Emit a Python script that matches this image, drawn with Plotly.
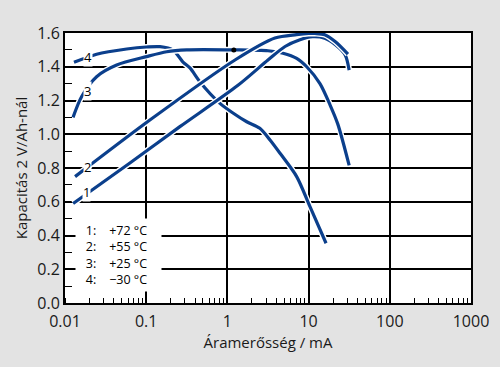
import math
import plotly.graph_objects as go

# ---- data (current in mA, capacity) ----
c1_x = [0.0126, 0.063, 0.26, 1.35, 3.16, 5.13, 7.83, 11.2, 15.8, 21.4, 28.2, 31.6]
c1_y = [0.59, 0.83, 1.045, 1.29, 1.44, 1.52, 1.56, 1.578, 1.569, 1.53, 1.47, 1.38]

c2_x = [0.0133, 0.111, 1.24, 3.85, 7.08, 10.0, 12.0, 15.8, 21.4, 30.5]
c2_y = [0.749, 1.084, 1.44, 1.57, 1.59, 1.597, 1.597, 1.59, 1.548, 1.475]

c3_x = [0.01256, 0.016, 0.0245, 0.0433, 0.101, 0.179, 0.316, 1.2, 3.16, 4.84, 7.13, 9.48, 13.8, 18.4, 22.9, 31.6]
c3_y = [1.10, 1.222, 1.341, 1.41, 1.46, 1.489, 1.50, 1.50, 1.495, 1.48, 1.45, 1.40, 1.30, 1.173, 1.06, 0.815]

c4_x = [0.0129, 0.0245, 0.0575, 0.101, 0.148, 0.214, 0.284, 0.346, 0.46, 0.81, 1.17, 1.73, 2.51, 3.35, 4.45, 7.13, 10.4, 16.4]
c4_y = [1.426, 1.474, 1.505, 1.517, 1.519, 1.499, 1.428, 1.393, 1.31, 1.183, 1.126, 1.074, 1.035, 0.966, 0.887, 0.749, 0.571, 0.354]

dot_x = [1.2]
dot_y = [1.5]

curve_labels = ["1", "2", "3", "4"]
label_x = [0.0185, 0.0187, 0.0187, 0.0192]
label_y = [0.66, 0.808, 1.258, 1.456]

legend_nums = ["1:", "2:", "3:", "4:"]
legend_temps = ["+72 °C", "+55 °C", "+25 °C", "\u221230 °C"]

x_tickvals = [0.01, 0.1, 1, 10, 100, 1000]
x_ticktext = ["0.01", "0.1", "1", "10", "100", "1000"]

BLUE = "#0b3f8c"
FONT = "Open Sans"

fig = go.Figure()
for xs, ys in [(c4_x, c4_y), (c3_x, c3_y), (c1_x, c1_y), (c2_x, c2_y)]:
    fig.add_trace(go.Scatter(x=xs, y=ys, mode="lines", line=dict(color="white", width=6, shape="spline", smoothing=0.8),
                             hoverinfo="skip", showlegend=False))
    fig.add_trace(go.Scatter(x=xs, y=ys, mode="lines", line=dict(color=BLUE, width=3.2, shape="spline", smoothing=0.8),
                             showlegend=False))

fig.add_trace(go.Scatter(x=dot_x, y=dot_y, mode="markers", marker=dict(color="black", size=5), showlegend=False))

for t, lx, ly in zip(curve_labels, label_x, label_y):
    fig.add_annotation(x=math.log10(lx), y=ly, xref="x", yref="y", text=t, showarrow=False,
                       font=dict(family=FONT, size=13, color="black"), bgcolor="white", borderpad=0)

# legend block (white box hides the grid behind it)
legend_text = "<br>".join(
    f"&nbsp;&nbsp;&nbsp;{n}&nbsp;&nbsp;&nbsp;&nbsp;{t}" for n, t in zip(legend_nums, legend_temps))
fig.add_annotation(xref="paper", yref="paper", x=(75 - 65) / 406, y=(303 - 218) / 270,
                   xanchor="left", yanchor="top", width=85, height=72, align="left", valign="middle",
                   text=legend_text, showarrow=False, bgcolor="white", borderpad=0,
                   font=dict(family=FONT, size=12.5, color="black"))

fig.update_layout(
    width=500, height=367,
    margin=dict(l=65, r=29, t=33, b=64, autoexpand=False),
    paper_bgcolor="#e3e3e3", plot_bgcolor="white",
    font=dict(family=FONT, color="#1a1a1a"),
)
fig.update_xaxes(
    type="log", range=[-2, 3], tickmode="array", tickvals=x_tickvals, ticktext=x_ticktext,
    showgrid=True, gridcolor="#000000", gridwidth=1.6, ticks="", tickfont=dict(size=16),
    showline=True, linecolor="black", linewidth=2, mirror=True, zeroline=False, automargin=False,
    minor=dict(ticks="inside", ticklen=5, tickcolor="black", tickwidth=1, dtick="D1", showgrid=False),
    title=dict(text="Áramerősség / mA", font=dict(size=15), standoff=2),
    ticklabelstandoff=3,
)
fig.update_yaxes(
    range=[0, 1.6], dtick=0.2, tickformat=".1f", showgrid=True, gridcolor="#000000", gridwidth=1.6,
    ticks="", tickfont=dict(size=16), zeroline=False, automargin=False,
    showline=True, linecolor="black", linewidth=2, mirror=True,
    minor=dict(ticks="inside", ticklen=7, tickcolor="black", tickwidth=1, dtick=0.1, showgrid=False),
    title=dict(text="Kapacitás 2 V/Ah-nál", font=dict(size=15), standoff=6),
)

fig.write_html("out.html", config={"displayModeBar": False},
               post_script="document.body.style.margin='0';document.body.style.padding='0';")
